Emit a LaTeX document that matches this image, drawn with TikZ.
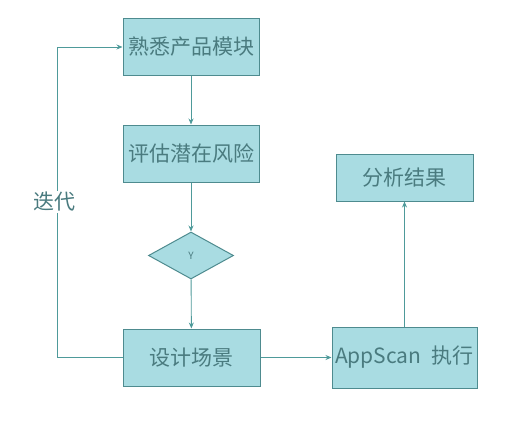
\documentclass[tikz,border=0pt]{standalone}
\usepackage{fontspec}
\setmainfont{Noto Sans CJK SC}
\usetikzlibrary{shapes.geometric,arrows.meta}
\definecolor{boxfill}{HTML}{A9DCE2}
\definecolor{boxline}{HTML}{4E8B8F}
\definecolor{txt}{HTML}{4A7B7F}
\definecolor{wire}{HTML}{4E9A9A}
\begin{document}
\begin{tikzpicture}[x=1pt,y=-1pt,
  procbox/.style={draw=boxline,fill=boxfill,line width=1pt,text=txt,
    font=\fontsize{21}{21}\selectfont,inner sep=0pt},
  flow/.style={draw=wire,line width=0.9pt,-{Stealth[length=6pt,width=5pt]}}]
  \useasboundingbox (0,0) rectangle (508,420);
  % process boxes
  \node[procbox,minimum width=136pt,minimum height=56pt] (know) at (191,47) {熟悉产品模块};
  \node[procbox,minimum width=136pt,minimum height=57pt] (risk) at (191,153.5) {评估潜在风险};
  \node[procbox,diamond,aspect=1.8,minimum width=85pt,minimum height=47pt,
        font=\fontsize{10}{10}\selectfont] (check) at (191,255.5) {Y};
  \node[procbox,minimum width=137pt,minimum height=57pt] (design) at (191.5,357.5) {设计场景};
  \node[procbox,minimum width=145pt,minimum height=61pt] (scan) at (404.5,357.5) {AppScan\enspace 执行};
  \node[procbox,minimum width=137pt,minimum height=47pt] (result) at (404.5,177.5) {分析结果};
  % main flow
  \draw[flow] (know) -- (risk);
  \draw[flow] (risk) -- (check);
  \draw[flow] (check) -- (design);
  \draw[flow] (design) -- (scan);
  \draw[flow] (scan) -- (result);
  % iteration loop back to the first step
  \coordinate (loopbot) at (57,357.5);
  \coordinate (looptop) at (57,47);
  \draw[flow] (design.west) -- (loopbot) -- (looptop) -- (know.west);
  \node[fill=white,text=txt,font=\fontsize{21}{21}\selectfont,inner sep=1pt] (iter) at (54,202) {迭代};
\end{tikzpicture}
\end{document}
